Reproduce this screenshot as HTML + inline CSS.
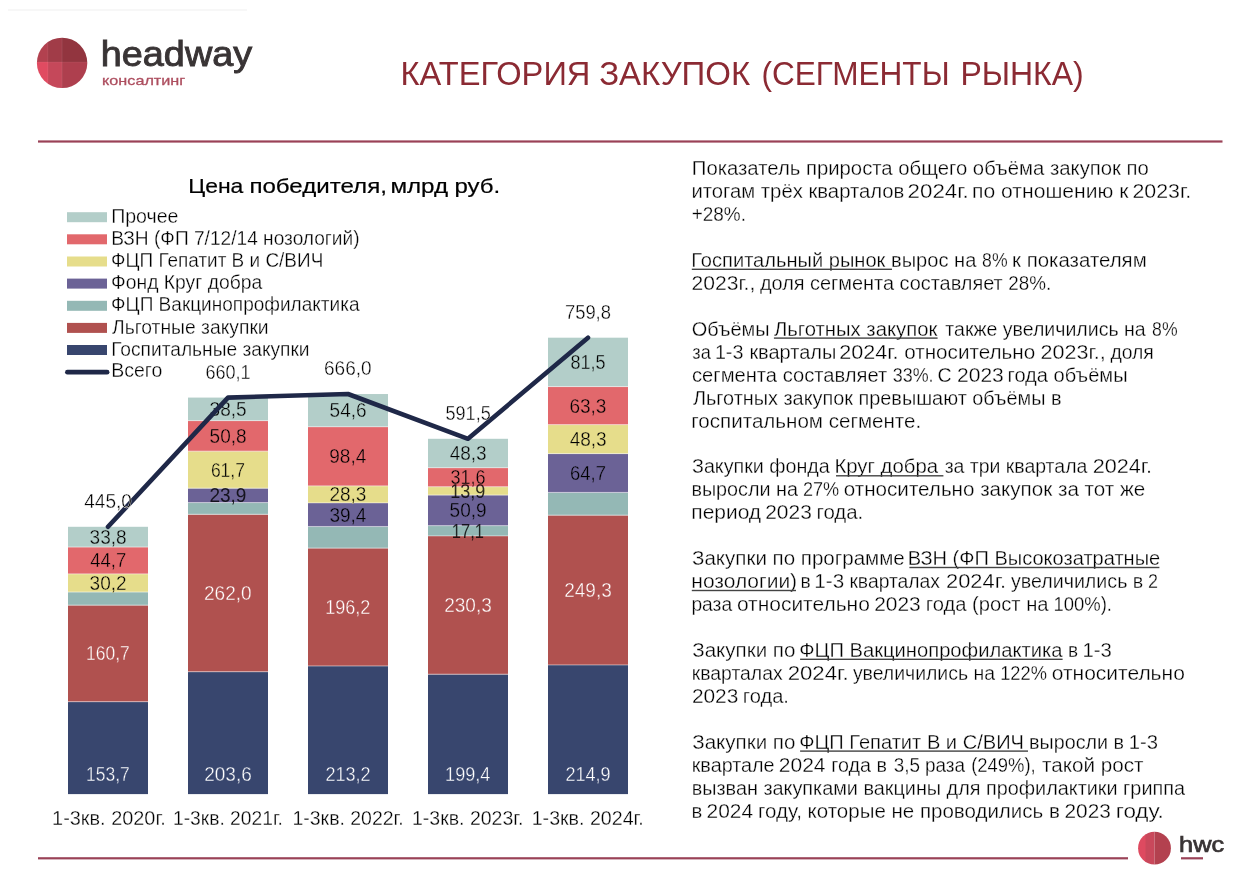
<!DOCTYPE html>
<html lang="ru"><head><meta charset="utf-8"><title>Категория закупок (сегменты рынка)</title>
<style>
html,body{margin:0;padding:0;background:#fff;}
body{width:1247px;height:875px;overflow:hidden;font-family:"Liberation Sans", sans-serif;}
svg{display:block;font-family:"Liberation Sans", sans-serif;}
</style></head><body>
<svg width="1247" height="875" viewBox="0 0 1247 875">
<rect width="1247" height="875" fill="#fff"/>
<rect x="8" y="9.5" width="239" height="1" fill="#efefef"/>
<defs><clipPath id="lc"><circle cx="62.1" cy="62.9" r="25.2"/></clipPath><clipPath id="lc2"><circle cx="1154.5" cy="848.2" r="16.4"/></clipPath></defs>
<g clip-path="url(#lc)">
<rect x="30" y="30" width="18" height="32" fill="#b2414f"/>
<rect x="48" y="30" width="14" height="32" fill="#a13c48"/>
<rect x="62" y="30" width="30" height="32" fill="#92353f"/>
<rect x="30" y="62" width="18" height="30" fill="#e04b61"/>
<rect x="48" y="62" width="14" height="30" fill="#c5485a"/>
<rect x="62" y="62" width="30" height="30" fill="#ae3f4e"/>
<rect x="61.7" y="30" width="0.7" height="62" fill="#fff" opacity="0.12"/><rect x="47.5" y="30" width="0.7" height="62" fill="#fff" opacity="0.10"/><rect x="30" y="61.7" width="62" height="0.7" fill="#fff" opacity="0.08"/>
</g>
<text x="100.8" y="65.9" font-size="34.2" fill="#393435" textLength="151.3" lengthAdjust="spacingAndGlyphs" stroke="#393435" stroke-width="0.9">headway</text>
<text x="102.1" y="84.6" font-size="13.4" fill="#ad4e5f" textLength="83.1" lengthAdjust="spacingAndGlyphs" stroke="#ad4e5f" stroke-width="0.3">консалтинг</text>
<text x="400.5" y="84.9" font-size="33.5" fill="#8b2a33" textLength="189.9" lengthAdjust="spacingAndGlyphs">КАТЕГОРИЯ</text>
<text x="599.2" y="84.9" font-size="33.5" fill="#8b2a33" textLength="151.0" lengthAdjust="spacingAndGlyphs">ЗАКУПОК</text>
<text x="761.5" y="84.9" font-size="33.5" fill="#8b2a33" textLength="188.1" lengthAdjust="spacingAndGlyphs">(СЕГМЕНТЫ</text>
<text x="960.4" y="84.9" font-size="33.5" fill="#8b2a33" textLength="123.3" lengthAdjust="spacingAndGlyphs">РЫНКА)</text>
<rect x="38" y="140.4" width="1184.5" height="2.2" fill="#9a4257"/>
<rect x="38" y="857.2" width="1090" height="2.2" fill="#9a4257"/>
<g clip-path="url(#lc2)">
<rect x="1136" y="830" width="10" height="36" fill="#de4a60"/>
<rect x="1145.5" y="830" width="9" height="36" fill="#c9485b"/>
<rect x="1154.5" y="830" width="20" height="36" fill="#b3414f"/>
</g>
<text x="1179.1" y="852.4" font-size="21.6" fill="#393435" textLength="45.0" lengthAdjust="spacingAndGlyphs" stroke="#393435" stroke-width="0.7">hwc</text>
<rect x="1181" y="857.2" width="22" height="2.2" fill="#9a4257"/>
<rect x="68" y="701.77" width="80" height="92.33" fill="#38466e"/>
<rect x="68" y="605.24" width="80" height="96.53" fill="#b0514f"/>
<rect x="68" y="592.08" width="80" height="13.16" fill="#94b8b5"/>
<rect x="68" y="573.94" width="80" height="18.14" fill="#e6dd8b"/>
<rect x="68" y="547.09" width="80" height="26.85" fill="#e2686c"/>
<rect x="68" y="526.79" width="80" height="20.30" fill="#b3cec9"/>
<text x="52.1" y="824.8" font-size="19.5" fill="#000" textLength="113.7" lengthAdjust="spacingAndGlyphs" stroke="#fff" stroke-width="0.3">1-3кв. 2020г.</text>
<rect x="188" y="671.80" width="80" height="122.30" fill="#38466e"/>
<rect x="188" y="514.41" width="80" height="157.38" fill="#b0514f"/>
<rect x="188" y="502.64" width="80" height="11.77" fill="#94b8b5"/>
<rect x="188" y="488.28" width="80" height="14.36" fill="#6b6296"/>
<rect x="188" y="451.22" width="80" height="37.06" fill="#e6dd8b"/>
<rect x="188" y="420.70" width="80" height="30.52" fill="#e2686c"/>
<rect x="188" y="397.58" width="80" height="23.13" fill="#b3cec9"/>
<text x="173.0" y="824.8" font-size="19.5" fill="#000" textLength="109.9" lengthAdjust="spacingAndGlyphs" stroke="#fff" stroke-width="0.3">1-3кв. 2021г.</text>
<rect x="308" y="666.03" width="80" height="128.07" fill="#38466e"/>
<rect x="308" y="548.17" width="80" height="117.86" fill="#b0514f"/>
<rect x="308" y="526.61" width="80" height="21.57" fill="#94b8b5"/>
<rect x="308" y="502.94" width="80" height="23.67" fill="#6b6296"/>
<rect x="308" y="485.94" width="80" height="17.00" fill="#e6dd8b"/>
<rect x="308" y="426.83" width="80" height="59.11" fill="#e2686c"/>
<rect x="308" y="394.03" width="80" height="32.80" fill="#b3cec9"/>
<text x="292.5" y="824.8" font-size="19.5" fill="#000" textLength="111.2" lengthAdjust="spacingAndGlyphs" stroke="#fff" stroke-width="0.3">1-3кв. 2022г.</text>
<rect x="428" y="674.32" width="80" height="119.78" fill="#38466e"/>
<rect x="428" y="535.98" width="80" height="138.34" fill="#b0514f"/>
<rect x="428" y="525.71" width="80" height="10.27" fill="#94b8b5"/>
<rect x="428" y="495.13" width="80" height="30.58" fill="#6b6296"/>
<rect x="428" y="486.78" width="80" height="8.35" fill="#e6dd8b"/>
<rect x="428" y="467.80" width="80" height="18.98" fill="#e2686c"/>
<rect x="428" y="438.79" width="80" height="29.01" fill="#b3cec9"/>
<text x="412.0" y="824.8" font-size="19.5" fill="#000" textLength="111.4" lengthAdjust="spacingAndGlyphs" stroke="#fff" stroke-width="0.3">1-3кв. 2023г.</text>
<rect x="548" y="665.01" width="80" height="129.09" fill="#38466e"/>
<rect x="548" y="515.26" width="80" height="149.75" fill="#b0514f"/>
<rect x="548" y="492.55" width="80" height="22.71" fill="#94b8b5"/>
<rect x="548" y="453.68" width="80" height="38.87" fill="#6b6296"/>
<rect x="548" y="424.67" width="80" height="29.01" fill="#e6dd8b"/>
<rect x="548" y="386.65" width="80" height="38.02" fill="#e2686c"/>
<rect x="548" y="337.69" width="80" height="48.96" fill="#b3cec9"/>
<text x="531.7" y="824.8" font-size="19.5" fill="#000" textLength="112.1" lengthAdjust="spacingAndGlyphs" stroke="#fff" stroke-width="0.3">1-3кв. 2024г.</text>
<rect x="68" y="701.12" width="80" height="1.1" fill="#fff" opacity="0.45"/>
<rect x="68" y="604.59" width="80" height="1.1" fill="#fff" opacity="0.45"/>
<rect x="68" y="591.43" width="80" height="1.1" fill="#fff" opacity="0.45"/>
<rect x="68" y="573.29" width="80" height="1.1" fill="#fff" opacity="0.45"/>
<rect x="68" y="546.44" width="80" height="1.1" fill="#fff" opacity="0.45"/>
<rect x="188" y="671.15" width="80" height="1.1" fill="#fff" opacity="0.45"/>
<rect x="188" y="513.76" width="80" height="1.1" fill="#fff" opacity="0.45"/>
<rect x="188" y="501.99" width="80" height="1.1" fill="#fff" opacity="0.45"/>
<rect x="188" y="487.63" width="80" height="1.1" fill="#fff" opacity="0.45"/>
<rect x="188" y="450.57" width="80" height="1.1" fill="#fff" opacity="0.45"/>
<rect x="188" y="420.05" width="80" height="1.1" fill="#fff" opacity="0.45"/>
<rect x="308" y="665.38" width="80" height="1.1" fill="#fff" opacity="0.45"/>
<rect x="308" y="547.52" width="80" height="1.1" fill="#fff" opacity="0.45"/>
<rect x="308" y="525.96" width="80" height="1.1" fill="#fff" opacity="0.45"/>
<rect x="308" y="502.29" width="80" height="1.1" fill="#fff" opacity="0.45"/>
<rect x="308" y="485.29" width="80" height="1.1" fill="#fff" opacity="0.45"/>
<rect x="308" y="426.18" width="80" height="1.1" fill="#fff" opacity="0.45"/>
<rect x="428" y="673.67" width="80" height="1.1" fill="#fff" opacity="0.45"/>
<rect x="428" y="535.33" width="80" height="1.1" fill="#fff" opacity="0.45"/>
<rect x="428" y="525.06" width="80" height="1.1" fill="#fff" opacity="0.45"/>
<rect x="428" y="494.48" width="80" height="1.1" fill="#fff" opacity="0.45"/>
<rect x="428" y="486.13" width="80" height="1.1" fill="#fff" opacity="0.45"/>
<rect x="428" y="467.15" width="80" height="1.1" fill="#fff" opacity="0.45"/>
<rect x="548" y="664.36" width="80" height="1.1" fill="#fff" opacity="0.45"/>
<rect x="548" y="514.61" width="80" height="1.1" fill="#fff" opacity="0.45"/>
<rect x="548" y="491.90" width="80" height="1.1" fill="#fff" opacity="0.45"/>
<rect x="548" y="453.03" width="80" height="1.1" fill="#fff" opacity="0.45"/>
<rect x="548" y="424.02" width="80" height="1.1" fill="#fff" opacity="0.45"/>
<rect x="548" y="386.00" width="80" height="1.1" fill="#fff" opacity="0.45"/>
<text x="86.0" y="780.7" font-size="19.3" fill="#fff" textLength="43.7" lengthAdjust="spacingAndGlyphs" stroke="#38466e" stroke-width="0.35">153,7</text>
<text x="86.0" y="660.4" font-size="19.3" fill="#fff" textLength="43.7" lengthAdjust="spacingAndGlyphs" stroke="#b0514f" stroke-width="0.35">160,7</text>
<text x="89.6" y="589.9" font-size="19.3" fill="#000" textLength="37.0" lengthAdjust="spacingAndGlyphs" stroke="#e6dd8b" stroke-width="0.35">30,2</text>
<text x="90.3" y="567.4" font-size="19.3" fill="#000" textLength="35.9" lengthAdjust="spacingAndGlyphs" stroke="#e2686c" stroke-width="0.35">44,7</text>
<text x="89.6" y="543.8" font-size="19.3" fill="#000" textLength="37.0" lengthAdjust="spacingAndGlyphs" stroke="#b3cec9" stroke-width="0.35">33,8</text>
<text x="204.2" y="780.7" font-size="19.3" fill="#fff" textLength="47.6" lengthAdjust="spacingAndGlyphs" stroke="#38466e" stroke-width="0.35">203,6</text>
<text x="204.0" y="600.0" font-size="19.3" fill="#fff" textLength="47.6" lengthAdjust="spacingAndGlyphs" stroke="#b0514f" stroke-width="0.35">262,0</text>
<text x="209.4" y="502.4" font-size="19.3" fill="#000" textLength="37.0" lengthAdjust="spacingAndGlyphs" fill-opacity="0.8">23,9</text>
<text x="210.9" y="476.7" font-size="19.3" fill="#000" textLength="34.0" lengthAdjust="spacingAndGlyphs" stroke="#e6dd8b" stroke-width="0.35">61,7</text>
<text x="209.6" y="442.9" font-size="19.3" fill="#000" textLength="37.0" lengthAdjust="spacingAndGlyphs" stroke="#e2686c" stroke-width="0.35">50,8</text>
<text x="209.6" y="416.0" font-size="19.3" fill="#000" textLength="37.0" lengthAdjust="spacingAndGlyphs" stroke="#b3cec9" stroke-width="0.35">38,5</text>
<text x="325.4" y="780.7" font-size="19.3" fill="#fff" textLength="45.2" lengthAdjust="spacingAndGlyphs" stroke="#38466e" stroke-width="0.35">213,2</text>
<text x="325.2" y="614.0" font-size="19.3" fill="#fff" textLength="45.2" lengthAdjust="spacingAndGlyphs" stroke="#b0514f" stroke-width="0.35">196,2</text>
<text x="329.4" y="521.7" font-size="19.3" fill="#000" textLength="37.0" lengthAdjust="spacingAndGlyphs" stroke="#6b6296" stroke-width="0.35">39,4</text>
<text x="329.4" y="501.3" font-size="19.3" fill="#000" textLength="37.0" lengthAdjust="spacingAndGlyphs" stroke="#e6dd8b" stroke-width="0.35">28,3</text>
<text x="329.3" y="463.3" font-size="19.3" fill="#000" textLength="37.0" lengthAdjust="spacingAndGlyphs" stroke="#e2686c" stroke-width="0.35">98,4</text>
<text x="329.6" y="417.3" font-size="19.3" fill="#000" textLength="37.0" lengthAdjust="spacingAndGlyphs" stroke="#b3cec9" stroke-width="0.35">54,6</text>
<text x="445.1" y="780.7" font-size="19.3" fill="#fff" textLength="45.2" lengthAdjust="spacingAndGlyphs" stroke="#38466e" stroke-width="0.35">199,4</text>
<text x="444.2" y="612.0" font-size="19.3" fill="#fff" textLength="47.6" lengthAdjust="spacingAndGlyphs" stroke="#b0514f" stroke-width="0.35">230,3</text>
<text x="451.8" y="537.7" font-size="19.3" fill="#000" textLength="32.1" lengthAdjust="spacingAndGlyphs" fill-opacity="0.8">17,1</text>
<text x="449.6" y="517.3" font-size="19.3" fill="#000" textLength="37.0" lengthAdjust="spacingAndGlyphs" stroke="#6b6296" stroke-width="0.35">50,9</text>
<text x="450.2" y="497.9" font-size="19.3" fill="#000" textLength="35.1" lengthAdjust="spacingAndGlyphs" fill-opacity="0.8">13,9</text>
<text x="450.5" y="484.2" font-size="19.3" fill="#000" textLength="35.1" lengthAdjust="spacingAndGlyphs" stroke="#e2686c" stroke-width="0.35">31,6</text>
<text x="449.7" y="460.2" font-size="19.3" fill="#000" textLength="37.0" lengthAdjust="spacingAndGlyphs" stroke="#b3cec9" stroke-width="0.35">48,3</text>
<text x="565.4" y="780.7" font-size="19.3" fill="#fff" textLength="45.2" lengthAdjust="spacingAndGlyphs" stroke="#38466e" stroke-width="0.35">214,9</text>
<text x="564.2" y="597.0" font-size="19.3" fill="#fff" textLength="47.6" lengthAdjust="spacingAndGlyphs" stroke="#b0514f" stroke-width="0.35">249,3</text>
<text x="570.0" y="480.0" font-size="19.3" fill="#000" textLength="35.9" lengthAdjust="spacingAndGlyphs" stroke="#6b6296" stroke-width="0.35">64,7</text>
<text x="569.7" y="446.1" font-size="19.3" fill="#000" textLength="37.0" lengthAdjust="spacingAndGlyphs" stroke="#e6dd8b" stroke-width="0.35">48,3</text>
<text x="569.4" y="412.6" font-size="19.3" fill="#000" textLength="37.0" lengthAdjust="spacingAndGlyphs" stroke="#e2686c" stroke-width="0.35">63,3</text>
<text x="570.5" y="369.1" font-size="19.3" fill="#000" textLength="35.1" lengthAdjust="spacingAndGlyphs" stroke="#b3cec9" stroke-width="0.35">81,5</text>
<polyline fill="none" stroke="#1f2848" stroke-width="4.6" stroke-linecap="round" stroke-linejoin="round" points="108.0,526.8 228.0,397.6 348.0,394.0 468.0,438.8 588.0,337.7"/>
<text x="84.3" y="507.7" font-size="19.3" fill="#000" textLength="47.6" lengthAdjust="spacingAndGlyphs" stroke="#fff" stroke-width="0.35">445,0</text>
<text x="205.4" y="378.5" font-size="19.3" fill="#000" textLength="45.2" lengthAdjust="spacingAndGlyphs" stroke="#fff" stroke-width="0.35">660,1</text>
<text x="324.0" y="374.9" font-size="19.3" fill="#000" textLength="47.6" lengthAdjust="spacingAndGlyphs" stroke="#fff" stroke-width="0.35">666,0</text>
<text x="445.5" y="419.7" font-size="19.3" fill="#000" textLength="45.2" lengthAdjust="spacingAndGlyphs" stroke="#fff" stroke-width="0.35">591,5</text>
<text x="564.9" y="318.6" font-size="19.3" fill="#000" textLength="46.1" lengthAdjust="spacingAndGlyphs" stroke="#fff" stroke-width="0.35">759,8</text>
<text x="188.2" y="193.4" font-size="20.3" fill="#000" textLength="55.1" lengthAdjust="spacingAndGlyphs" stroke="#000" stroke-width="0.2">Цена</text>
<text x="249.4" y="193.4" font-size="20.3" fill="#000" textLength="137.5" lengthAdjust="spacingAndGlyphs" stroke="#000" stroke-width="0.2">победителя,</text>
<text x="390.4" y="193.4" font-size="20.3" fill="#000" textLength="57.7" lengthAdjust="spacingAndGlyphs" stroke="#000" stroke-width="0.2">млрд</text>
<text x="454.4" y="193.4" font-size="20.3" fill="#000" textLength="45.8" lengthAdjust="spacingAndGlyphs" stroke="#000" stroke-width="0.2">руб.</text>
<rect x="67" y="212.2" width="40" height="10" fill="#b3cec9"/>
<text x="111.2" y="222.6" font-size="19.4" fill="#000" textLength="67.3" lengthAdjust="spacingAndGlyphs" stroke="#fff" stroke-width="0.3">Прочее</text>
<rect x="67" y="234.3" width="40" height="10" fill="#e2686c"/>
<text x="111.2" y="244.8" font-size="19.4" fill="#000" textLength="248.4" lengthAdjust="spacingAndGlyphs" stroke="#fff" stroke-width="0.3">ВЗН (ФП 7/12/14 нозологий)</text>
<rect x="67" y="256.5" width="40" height="10" fill="#e6dd8b"/>
<text x="111.1" y="267.0" font-size="19.4" fill="#000" textLength="212.2" lengthAdjust="spacingAndGlyphs" stroke="#fff" stroke-width="0.3">ФЦП Гепатит В и С/ВИЧ</text>
<rect x="67" y="278.6" width="40" height="10" fill="#6b6296"/>
<text x="111.1" y="289.1" font-size="19.4" fill="#000" textLength="151.1" lengthAdjust="spacingAndGlyphs" stroke="#fff" stroke-width="0.3">Фонд Круг добра</text>
<rect x="67" y="300.8" width="40" height="10" fill="#94b8b5"/>
<text x="111.1" y="311.3" font-size="19.4" fill="#000" textLength="248.4" lengthAdjust="spacingAndGlyphs" stroke="#fff" stroke-width="0.3">ФЦП Вакцинопрофилактика</text>
<rect x="67" y="322.9" width="40" height="10" fill="#b0514f"/>
<text x="112.0" y="333.5" font-size="19.4" fill="#000" textLength="156.6" lengthAdjust="spacingAndGlyphs" stroke="#fff" stroke-width="0.3">Льготные закупки</text>
<rect x="67" y="345.0" width="40" height="10" fill="#38466e"/>
<text x="111.2" y="355.7" font-size="19.4" fill="#000" textLength="198.4" lengthAdjust="spacingAndGlyphs" stroke="#fff" stroke-width="0.3">Госпитальные закупки</text>
<line x1="67.4" y1="372.2" x2="107.1" y2="372.2" stroke="#1f2848" stroke-width="4.7" stroke-linecap="round"/>
<text x="111.2" y="377.3" font-size="19.4" fill="#000" textLength="51.1" lengthAdjust="spacingAndGlyphs" stroke="#fff" stroke-width="0.3">Всего</text>
<text x="691.8" y="175.2" font-size="20" fill="#000" textLength="457.1" lengthAdjust="spacingAndGlyphs" stroke="#fff" stroke-width="0.3">Показатель прироста общего объёма закупок по</text>
<text x="691.4" y="198.1" font-size="20" fill="#000" textLength="213.0" lengthAdjust="spacingAndGlyphs" stroke="#fff" stroke-width="0.3">итогам трёх кварталов</text>
<text x="907.6" y="198.1" font-size="20" fill="#000" textLength="61.2" lengthAdjust="spacingAndGlyphs" stroke="#fff" stroke-width="0.3">2024г.</text>
<text x="972.1" y="198.1" font-size="20" fill="#000" textLength="156.3" lengthAdjust="spacingAndGlyphs" stroke="#fff" stroke-width="0.3">по отношению к</text>
<text x="1132.5" y="198.1" font-size="20" fill="#000" textLength="58.6" lengthAdjust="spacingAndGlyphs" stroke="#fff" stroke-width="0.3">2023г.</text>
<text x="691.7" y="221.1" font-size="20" fill="#000" textLength="54.3" lengthAdjust="spacingAndGlyphs" stroke="#fff" stroke-width="0.3">+28%.</text>
<text x="691.3" y="267.0" font-size="20" fill="#000" textLength="285.0" lengthAdjust="spacingAndGlyphs" stroke="#fff" stroke-width="0.3">Госпитальный рынок вырос на</text>
<text x="982.1" y="267.0" font-size="20" fill="#000" textLength="25.5" lengthAdjust="spacingAndGlyphs" stroke="#fff" stroke-width="0.3">8%</text>
<text x="1012.1" y="267.0" font-size="20" fill="#000" textLength="134.6" lengthAdjust="spacingAndGlyphs" stroke="#fff" stroke-width="0.3">к показателям</text>
<text x="691.6" y="289.9" font-size="20" fill="#000" textLength="63.7" lengthAdjust="spacingAndGlyphs" stroke="#fff" stroke-width="0.3">2023г.,</text>
<text x="759.9" y="289.9" font-size="20" fill="#000" textLength="242.8" lengthAdjust="spacingAndGlyphs" stroke="#fff" stroke-width="0.3">доля сегмента составляет</text>
<text x="1008.3" y="289.9" font-size="20" fill="#000" textLength="42.9" lengthAdjust="spacingAndGlyphs" stroke="#fff" stroke-width="0.3">28%.</text>
<text x="691.7" y="335.8" font-size="20" fill="#000" textLength="77.9" lengthAdjust="spacingAndGlyphs" stroke="#fff" stroke-width="0.3">Объёмы</text>
<text x="773.9" y="335.8" font-size="20" fill="#000" textLength="163.4" lengthAdjust="spacingAndGlyphs" stroke="#fff" stroke-width="0.3">Льготных закупок</text>
<text x="945.3" y="335.8" font-size="20" fill="#000" textLength="200.4" lengthAdjust="spacingAndGlyphs" stroke="#fff" stroke-width="0.3">также увеличились на</text>
<text x="1152.1" y="335.8" font-size="20" fill="#000" textLength="25.5" lengthAdjust="spacingAndGlyphs" stroke="#fff" stroke-width="0.3">8%</text>
<text x="692.3" y="358.7" font-size="20" fill="#000" textLength="18.5" lengthAdjust="spacingAndGlyphs" stroke="#fff" stroke-width="0.3">за</text>
<text x="714.9" y="358.7" font-size="20" fill="#000" textLength="28.5" lengthAdjust="spacingAndGlyphs" stroke="#fff" stroke-width="0.3">1-3</text>
<text x="749.4" y="358.7" font-size="20" fill="#000" textLength="86.9" lengthAdjust="spacingAndGlyphs" stroke="#fff" stroke-width="0.3">кварталы</text>
<text x="839.2" y="358.7" font-size="20" fill="#000" textLength="59.3" lengthAdjust="spacingAndGlyphs" stroke="#fff" stroke-width="0.3">2024г.</text>
<text x="904.2" y="358.7" font-size="20" fill="#000" textLength="131.0" lengthAdjust="spacingAndGlyphs" stroke="#fff" stroke-width="0.3">относительно</text>
<text x="1040.6" y="358.7" font-size="20" fill="#000" textLength="65.1" lengthAdjust="spacingAndGlyphs" stroke="#fff" stroke-width="0.3">2023г.,</text>
<text x="1110.4" y="358.7" font-size="20" fill="#000" textLength="43.4" lengthAdjust="spacingAndGlyphs" stroke="#fff" stroke-width="0.3">доля</text>
<text x="692.0" y="381.7" font-size="20" fill="#000" textLength="195.2" lengthAdjust="spacingAndGlyphs" stroke="#fff" stroke-width="0.3">сегмента составляет</text>
<text x="892.8" y="381.7" font-size="20" fill="#000" textLength="40.8" lengthAdjust="spacingAndGlyphs" stroke="#fff" stroke-width="0.3">33%.</text>
<text x="937.4" y="381.7" font-size="20" fill="#000" textLength="14.2" lengthAdjust="spacingAndGlyphs" stroke="#fff" stroke-width="0.3">С</text>
<text x="957.1" y="381.7" font-size="20" fill="#000" textLength="46.7" lengthAdjust="spacingAndGlyphs" stroke="#fff" stroke-width="0.3">2023</text>
<text x="1007.5" y="381.7" font-size="20" fill="#000" textLength="120.1" lengthAdjust="spacingAndGlyphs" stroke="#fff" stroke-width="0.3">года объёмы</text>
<text x="692.9" y="404.6" font-size="20" fill="#000" textLength="368.6" lengthAdjust="spacingAndGlyphs" stroke="#fff" stroke-width="0.3">Льготных закупок превышают объёмы в</text>
<text x="691.3" y="427.5" font-size="20" fill="#000" textLength="229.9" lengthAdjust="spacingAndGlyphs" stroke="#fff" stroke-width="0.3">госпитальном сегменте.</text>
<text x="692.0" y="473.4" font-size="20" fill="#000" textLength="137.7" lengthAdjust="spacingAndGlyphs" stroke="#fff" stroke-width="0.3">Закупки фонда</text>
<text x="834.4" y="473.4" font-size="20" fill="#000" textLength="103.7" lengthAdjust="spacingAndGlyphs" stroke="#fff" stroke-width="0.3">Круг добра</text>
<text x="944.7" y="473.4" font-size="20" fill="#000" textLength="142.6" lengthAdjust="spacingAndGlyphs" stroke="#fff" stroke-width="0.3">за три квартала</text>
<text x="1092.7" y="473.4" font-size="20" fill="#000" textLength="59.3" lengthAdjust="spacingAndGlyphs" stroke="#fff" stroke-width="0.3">2024г.</text>
<text x="691.4" y="496.4" font-size="20" fill="#000" textLength="106.6" lengthAdjust="spacingAndGlyphs" stroke="#fff" stroke-width="0.3">выросли на</text>
<text x="802.9" y="496.4" font-size="20" fill="#000" textLength="36.2" lengthAdjust="spacingAndGlyphs" stroke="#fff" stroke-width="0.3">27%</text>
<text x="843.8" y="496.4" font-size="20" fill="#000" textLength="301.4" lengthAdjust="spacingAndGlyphs" stroke="#fff" stroke-width="0.3">относительно закупок за тот же</text>
<text x="691.3" y="519.3" font-size="20" fill="#000" textLength="69.8" lengthAdjust="spacingAndGlyphs" stroke="#fff" stroke-width="0.3">период</text>
<text x="765.2" y="519.3" font-size="20" fill="#000" textLength="46.6" lengthAdjust="spacingAndGlyphs" stroke="#fff" stroke-width="0.3">2023</text>
<text x="816.4" y="519.3" font-size="20" fill="#000" textLength="46.9" lengthAdjust="spacingAndGlyphs" stroke="#fff" stroke-width="0.3">года.</text>
<text x="692.0" y="565.2" font-size="20" fill="#000" textLength="212.7" lengthAdjust="spacingAndGlyphs" stroke="#fff" stroke-width="0.3">Закупки по программе</text>
<text x="907.8" y="565.2" font-size="20" fill="#000" textLength="252.4" lengthAdjust="spacingAndGlyphs" stroke="#fff" stroke-width="0.3">ВЗН (ФП Высокозатратные</text>
<text x="691.3" y="588.1" font-size="20" fill="#000" textLength="105.8" lengthAdjust="spacingAndGlyphs" stroke="#fff" stroke-width="0.3">нозологии)</text>
<text x="800.4" y="588.1" font-size="20" fill="#000" textLength="10.2" lengthAdjust="spacingAndGlyphs" stroke="#fff" stroke-width="0.3">в</text>
<text x="814.3" y="588.1" font-size="20" fill="#000" textLength="29.8" lengthAdjust="spacingAndGlyphs" stroke="#fff" stroke-width="0.3">1-3</text>
<text x="849.4" y="588.1" font-size="20" fill="#000" textLength="90.6" lengthAdjust="spacingAndGlyphs" stroke="#fff" stroke-width="0.3">кварталах</text>
<text x="946.1" y="588.1" font-size="20" fill="#000" textLength="59.9" lengthAdjust="spacingAndGlyphs" stroke="#fff" stroke-width="0.3">2024г.</text>
<text x="1010.9" y="588.1" font-size="20" fill="#000" textLength="132.4" lengthAdjust="spacingAndGlyphs" stroke="#fff" stroke-width="0.3">увеличились в</text>
<text x="1148.1" y="588.1" font-size="20" fill="#000" textLength="10.0" lengthAdjust="spacingAndGlyphs" stroke="#fff" stroke-width="0.3">2</text>
<text x="691.4" y="611.1" font-size="20" fill="#000" textLength="40.7" lengthAdjust="spacingAndGlyphs" stroke="#fff" stroke-width="0.3">раза</text>
<text x="736.9" y="611.1" font-size="20" fill="#000" textLength="132.9" lengthAdjust="spacingAndGlyphs" stroke="#fff" stroke-width="0.3">относительно</text>
<text x="874.2" y="611.1" font-size="20" fill="#000" textLength="46.5" lengthAdjust="spacingAndGlyphs" stroke="#fff" stroke-width="0.3">2023</text>
<text x="925.8" y="611.1" font-size="20" fill="#000" textLength="122.8" lengthAdjust="spacingAndGlyphs" stroke="#fff" stroke-width="0.3">года (рост на</text>
<text x="1053.5" y="611.1" font-size="20" fill="#000" textLength="58.5" lengthAdjust="spacingAndGlyphs" stroke="#fff" stroke-width="0.3">100%).</text>
<text x="692.3" y="656.9" font-size="20" fill="#000" textLength="103.1" lengthAdjust="spacingAndGlyphs" stroke="#fff" stroke-width="0.3">Закупки по</text>
<text x="799.2" y="656.9" font-size="20" fill="#000" textLength="263.3" lengthAdjust="spacingAndGlyphs" stroke="#fff" stroke-width="0.3">ФЦП Вакцинопрофилактика</text>
<text x="1068.0" y="656.9" font-size="20" fill="#000" textLength="10.1" lengthAdjust="spacingAndGlyphs" stroke="#fff" stroke-width="0.3">в</text>
<text x="1082.4" y="656.9" font-size="20" fill="#000" textLength="29.3" lengthAdjust="spacingAndGlyphs" stroke="#fff" stroke-width="0.3">1-3</text>
<text x="691.7" y="679.9" font-size="20" fill="#000" textLength="91.0" lengthAdjust="spacingAndGlyphs" stroke="#fff" stroke-width="0.3">кварталах</text>
<text x="787.7" y="679.9" font-size="20" fill="#000" textLength="60.9" lengthAdjust="spacingAndGlyphs" stroke="#fff" stroke-width="0.3">2024г.</text>
<text x="852.9" y="679.9" font-size="20" fill="#000" textLength="142.1" lengthAdjust="spacingAndGlyphs" stroke="#fff" stroke-width="0.3">увеличились на</text>
<text x="1000.2" y="679.9" font-size="20" fill="#000" textLength="46.7" lengthAdjust="spacingAndGlyphs" stroke="#fff" stroke-width="0.3">122%</text>
<text x="1051.8" y="679.9" font-size="20" fill="#000" textLength="133.0" lengthAdjust="spacingAndGlyphs" stroke="#fff" stroke-width="0.3">относительно</text>
<text x="691.9" y="702.8" font-size="20" fill="#000" textLength="46.4" lengthAdjust="spacingAndGlyphs" stroke="#fff" stroke-width="0.3">2023</text>
<text x="742.8" y="702.8" font-size="20" fill="#000" textLength="46.1" lengthAdjust="spacingAndGlyphs" stroke="#fff" stroke-width="0.3">года.</text>
<text x="692.3" y="748.7" font-size="20" fill="#000" textLength="103.1" lengthAdjust="spacingAndGlyphs" stroke="#fff" stroke-width="0.3">Закупки по</text>
<text x="799.2" y="748.7" font-size="20" fill="#000" textLength="224.8" lengthAdjust="spacingAndGlyphs" stroke="#fff" stroke-width="0.3">ФЦП Гепатит В и С/ВИЧ</text>
<text x="1029.1" y="748.7" font-size="20" fill="#000" textLength="94.9" lengthAdjust="spacingAndGlyphs" stroke="#fff" stroke-width="0.3">выросли в</text>
<text x="1128.8" y="748.7" font-size="20" fill="#000" textLength="29.3" lengthAdjust="spacingAndGlyphs" stroke="#fff" stroke-width="0.3">1-3</text>
<text x="691.7" y="771.6" font-size="20" fill="#000" textLength="82.9" lengthAdjust="spacingAndGlyphs" stroke="#fff" stroke-width="0.3">квартале</text>
<text x="778.8" y="771.6" font-size="20" fill="#000" textLength="46.7" lengthAdjust="spacingAndGlyphs" stroke="#fff" stroke-width="0.3">2024</text>
<text x="831.2" y="771.6" font-size="20" fill="#000" textLength="55.7" lengthAdjust="spacingAndGlyphs" stroke="#fff" stroke-width="0.3">года в</text>
<text x="893.8" y="771.6" font-size="20" fill="#000" textLength="26.3" lengthAdjust="spacingAndGlyphs" stroke="#fff" stroke-width="0.3">3,5</text>
<text x="925.0" y="771.6" font-size="20" fill="#000" textLength="40.1" lengthAdjust="spacingAndGlyphs" stroke="#fff" stroke-width="0.3">раза</text>
<text x="971.2" y="771.6" font-size="20" fill="#000" textLength="64.5" lengthAdjust="spacingAndGlyphs" stroke="#fff" stroke-width="0.3">(249%),</text>
<text x="1042.1" y="771.6" font-size="20" fill="#000" textLength="101.4" lengthAdjust="spacingAndGlyphs" stroke="#fff" stroke-width="0.3">такой рост</text>
<text x="691.7" y="794.6" font-size="20" fill="#000" textLength="493.3" lengthAdjust="spacingAndGlyphs" stroke="#fff" stroke-width="0.3">вызван закупками вакцины для профилактики гриппа</text>
<text x="691.6" y="817.5" font-size="20" fill="#000" textLength="10.8" lengthAdjust="spacingAndGlyphs" stroke="#fff" stroke-width="0.3">в</text>
<text x="706.6" y="817.5" font-size="20" fill="#000" textLength="46.5" lengthAdjust="spacingAndGlyphs" stroke="#fff" stroke-width="0.3">2024</text>
<text x="758.0" y="817.5" font-size="20" fill="#000" textLength="301.8" lengthAdjust="spacingAndGlyphs" stroke="#fff" stroke-width="0.3">году, которые не проводились в</text>
<text x="1064.5" y="817.5" font-size="20" fill="#000" textLength="46.3" lengthAdjust="spacingAndGlyphs" stroke="#fff" stroke-width="0.3">2023</text>
<text x="1115.7" y="817.5" font-size="20" fill="#000" textLength="48.0" lengthAdjust="spacingAndGlyphs" stroke="#fff" stroke-width="0.3">году.</text>
<rect x="691.8" y="268.6" width="200.2" height="1.4" fill="#444"/>
<rect x="773.9" y="337.4" width="163.7" height="1.4" fill="#444"/>
<rect x="836.0" y="475.1" width="107.4" height="1.4" fill="#444"/>
<rect x="909.4" y="566.8" width="250.0" height="1.4" fill="#444"/>
<rect x="691.8" y="589.8" width="104.2" height="1.4" fill="#444"/>
<rect x="800.1" y="658.6" width="262.5" height="1.4" fill="#444"/>
<rect x="800.1" y="750.4" width="227.9" height="1.4" fill="#444"/>
</svg></body></html>
